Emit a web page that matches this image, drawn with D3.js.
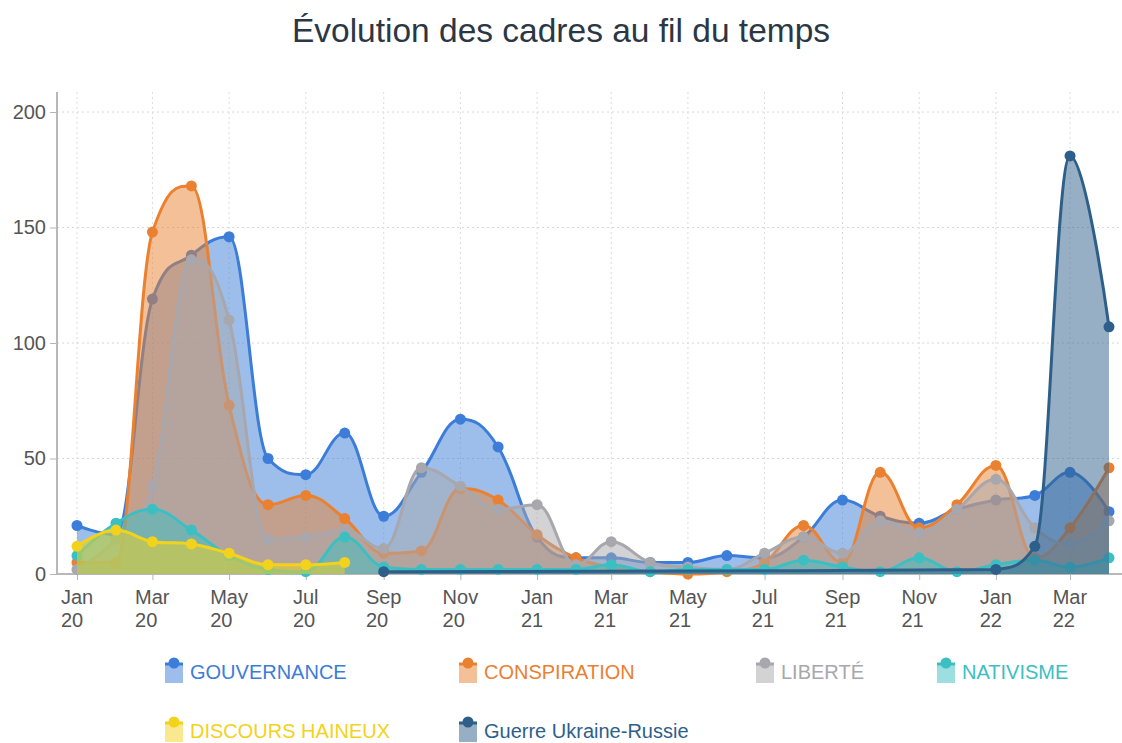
<!DOCTYPE html>
<html><head><meta charset="utf-8">
<script src="https://cdn.jsdelivr.net/npm/d3@7"></script>
<style>
body{margin:0;background:#fff;}
text{font-family:"Liberation Sans",Arial,Helvetica,sans-serif;}
</style>
</head><body>
<svg id="chart" width="1122" height="743"></svg>
<script>
// ---------- DATA ----------
const months = ["2020-01","2020-02","2020-03","2020-04","2020-05","2020-06","2020-07","2020-08",
  "2020-09","2020-10","2020-11","2020-12","2021-01","2021-02","2021-03","2021-04","2021-05","2021-06",
  "2021-07","2021-08","2021-09","2021-10","2021-11","2021-12","2022-01","2022-02","2022-03","2022-04"];
const tickMonths = ["2020-01","2020-03","2020-05","2020-07","2020-09","2020-11","2021-01","2021-03",
  "2021-05","2021-07","2021-09","2021-11","2022-01","2022-03"];
const tickLabels = [["Jan","20"],["Mar","20"],["May","20"],["Jul","20"],["Sep","20"],["Nov","20"],
  ["Jan","21"],["Mar","21"],["May","21"],["Jul","21"],["Sep","21"],["Nov","21"],["Jan","22"],["Mar","22"]];
const yTicks = [0,50,100,150,200];

const seriesNames = ["GOUVERNANCE","CONSPIRATION","LIBERTÉ","NATIVISME","DISCOURS HAINEUX","Guerre Ukraine-Russie"];
const seriesColors = ["#3b7dd8","#ea8130","#a7a7ad","#3cbfc3","#f3d21c","#2e5f8a"];

const gouvernance  = [21,17,119,138,146,50,43,61,25,44,67,55,16,7,7,5,5,8,7,16,32,25,22,28,32,34,44,27];
const conspiration = [5,5,148,168,73,30,34,24,9,10,37,32,17,7,3,1,0,1,5,21,5,44,20,30,47,7,20,46];
const liberte      = [2,15,38,136,110,15,16,19,11,46,38,28,30,4,14,5,3,2,9,16,9,23,18,28,41,20,13,23];
const nativisme    = [8,22,28,19,8,2,1,16,3,2,2,2,2,2,4,1,2,2,2,6,3,1,7,1,4,6,3,7];
const discoursMonths = ["2020-01","2020-02","2020-03","2020-04","2020-05","2020-06","2020-07","2020-08"];
const discours     = [12,19,14,13,9,4,4,5];
const guerreMonths = ["2020-09","2022-01","2022-02","2022-03","2022-04"];
const guerre       = [1,2,12,181,107];

// ---------- SETUP ----------
const parse = d3.timeParse("%Y-%m");
const svg = d3.select("#chart");
const plotLeft = 57, plotRight = 1122, plotTop = 92, plotBottom = 574;

const x = d3.scaleTime().domain([parse("2020-01"), parse("2022-04")]).range([77, 1109]);
const y = d3.scaleLinear().domain([0, 200]).range([574, 112]);

// Highcharts-like spline curve
function hcControls(p, i){
  const n = p.length, cur = p[i];
  if (i === 0 || i === n - 1) return {lx:cur[0], ly:cur[1], rx:cur[0], ry:cur[1]};
  const s = 1.5, den = 2.5, last = p[i-1], next = p[i+1];
  let lx = (s*cur[0] + last[0]) / den, ly = (s*cur[1] + last[1]) / den;
  let rx = (s*cur[0] + next[0]) / den, ry = (s*cur[1] + next[1]) / den;
  if (rx !== lx) { const c = ((ry - ly) * (rx - cur[0])) / (rx - lx) + cur[1] - ry; ly += c; ry += c; }
  if (ly > last[1] && ly > cur[1]) { ly = Math.max(last[1], cur[1]); ry = 2*cur[1] - ly; }
  else if (ly < last[1] && ly < cur[1]) { ly = Math.min(last[1], cur[1]); ry = 2*cur[1] - ly; }
  if (ry > next[1] && ry > cur[1]) { ry = Math.max(next[1], cur[1]); ly = 2*cur[1] - ry; }
  else if (ry < next[1] && ry < cur[1]) { ry = Math.min(next[1], cur[1]); ly = 2*cur[1] - ry; }
  return {lx, ly, rx, ry};
}
function HCSpline(ctx){ this._context = ctx; }
HCSpline.prototype = {
  areaStart(){ this._line = 0; },
  areaEnd(){ this._line = NaN; },
  lineStart(){ this._pts = []; },
  point(px, py){ this._pts.push([+px, +py]); },
  lineEnd(){
    const p = this._pts, ctx = this._context, n = p.length;
    if (n) {
      if (this._line) ctx.lineTo(p[0][0], p[0][1]); else ctx.moveTo(p[0][0], p[0][1]);
      const c = p.map((_, i) => hcControls(p, i));
      for (let i = 1; i < n; i++) ctx.bezierCurveTo(c[i-1].rx, c[i-1].ry, c[i].lx, c[i].ly, p[i][0], p[i][1]);
    }
    if (this._line || (this._line !== 0 && n === 1)) ctx.closePath();
    this._line = 1 - this._line;
  }
};
const hcSpline = ctx => new HCSpline(ctx);

// ---------- TITLE ----------
svg.append("text").attr("x", 561).attr("y", 42).attr("text-anchor", "middle")
  .attr("font-size", 33.5).attr("fill", "#2b3744").text("Évolution des cadres au fil du temps");

// ---------- GRID ----------
const grid = svg.append("g");
grid.selectAll("line.h").data(yTicks.filter(v => v > 0)).join("line")
  .attr("x1", plotLeft).attr("x2", plotRight).attr("y1", d => y(d)).attr("y2", d => y(d))
  .attr("stroke", "#d6d6d6").attr("stroke-dasharray", "2,3");
grid.selectAll("line.v").data(tickMonths).join("line")
  .attr("x1", d => x(parse(d))).attr("x2", d => x(parse(d))).attr("y1", plotTop).attr("y2", plotBottom)
  .attr("stroke", "#dcdcdc").attr("stroke-dasharray", "2,3");

// ---------- AXES ----------
const yAxis = svg.append("g").attr("transform", `translate(${plotLeft},0)`)
  .call(d3.axisLeft(y).tickValues(yTicks).tickSize(7).tickPadding(4));
yAxis.select(".domain").remove();
yAxis.selectAll(".tick line").attr("stroke", "#b5b5b5");
yAxis.selectAll(".tick text").attr("font-size", 20).attr("fill", "#555")
  .attr("font-family", "'Liberation Sans',Arial,sans-serif");
svg.append("line").attr("x1", plotLeft).attr("x2", plotLeft).attr("y1", plotTop).attr("y2", plotBottom + 1)
  .attr("stroke", "#b8b8b8").attr("stroke-width", 2);

const tickDates = tickMonths.map(parse);
const xAxis = svg.append("g").attr("transform", `translate(0,${plotBottom})`)
  .call(d3.axisBottom(x).tickValues(tickDates).tickSize(6).tickFormat(""));
xAxis.select(".domain").remove();
xAxis.selectAll(".tick line").attr("stroke", "#b5b5b5");
svg.append("line").attr("x1", plotLeft).attr("x2", plotRight).attr("y1", plotBottom).attr("y2", plotBottom)
  .attr("stroke", "#b8b8b8").attr("stroke-width", 2);

const xl = svg.append("g");
tickDates.forEach((d, i) => {
  const t = xl.append("text").attr("font-size", 20).attr("fill", "#555");
  t.append("tspan").attr("x", 0).attr("y", 604).text(tickLabels[i][0]);
  t.append("tspan").attr("x", 0).attr("y", 627).text(tickLabels[i][1]);
  const w = t.node().getBBox().width;
  t.selectAll("tspan").attr("x", x(d) - w / 2);
});

// ---------- SERIES ----------
const seriesData = [
  months.map((m, i) => ({date: parse(m), v: gouvernance[i]})),
  months.map((m, i) => ({date: parse(m), v: conspiration[i]})),
  months.map((m, i) => ({date: parse(m), v: liberte[i]})),
  months.map((m, i) => ({date: parse(m), v: nativisme[i]})),
  discoursMonths.map((m, i) => ({date: parse(m), v: discours[i]})),
  guerreMonths.map((m, i) => ({date: parse(m), v: guerre[i]}))
];

const area = d3.area().x(d => x(d.date)).y0(y(0)).y1(d => y(d.v)).curve(hcSpline);
const line = d3.line().x(d => x(d.date)).y(d => y(d.v)).curve(hcSpline);

seriesData.forEach((data, k) => {
  const g = svg.append("g");
  const col = seriesColors[k];
  g.append("path").attr("d", area(data)).attr("fill", col).attr("fill-opacity", 0.5);
  g.append("path").attr("d", line(data)).attr("fill", "none").attr("stroke", col)
    .attr("stroke-width", 3).attr("stroke-linejoin", "round");
  g.selectAll("circle").data(data).join("circle")
    .attr("cx", d => x(d.date)).attr("cy", d => y(d.v)).attr("r", 5.5).attr("fill", col);
});

// ---------- LEGEND ----------
const legendPos = [[165, 663], [459, 663], [756, 663], [937, 663], [165, 722], [459, 722]];
seriesNames.forEach((name, k) => {
  const [lx, ly] = legendPos[k];
  const col = seriesColors[k];
  const g = svg.append("g").attr("transform", `translate(${lx},${ly})`);
  g.append("rect").attr("x", 0).attr("y", 0).attr("width", 18).attr("height", 20)
    .attr("fill", col).attr("fill-opacity", 0.5);
  g.append("line").attr("x1", 0).attr("x2", 18).attr("y1", 1).attr("y2", 1)
    .attr("stroke", col).attr("stroke-width", 3);
  g.append("circle").attr("cx", 9).attr("cy", 0).attr("r", 5.5).attr("fill", col);
  g.append("text").attr("x", 25).attr("y", 16).attr("font-size", 20).attr("fill", col).text(name);
});
</script>
</body></html>
